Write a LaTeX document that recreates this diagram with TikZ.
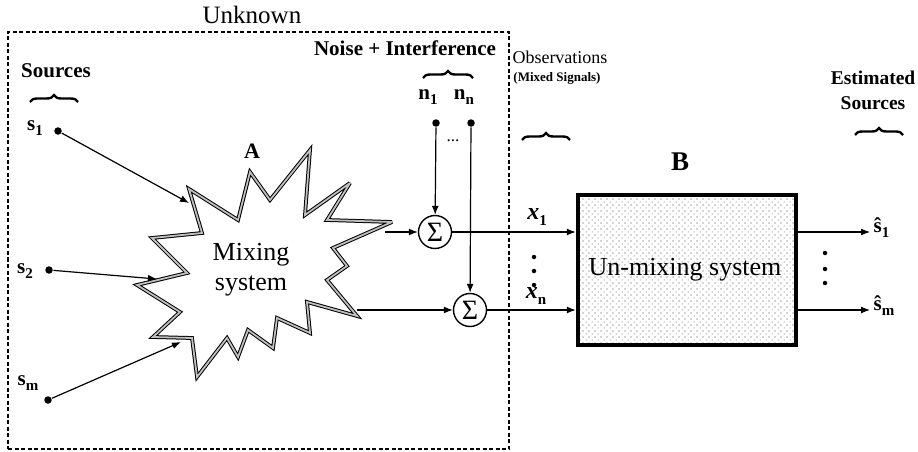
\documentclass[tikz,border=0pt]{standalone}
\usepackage{fontspec}
\setmainfont{Liberation Serif}
\usetikzlibrary{arrows.meta,decorations.pathreplacing,patterns.meta}
\tikzdeclarepattern{
  name=sparsedots,
  type=uncolored,
  bottom left={(-1pt,-1pt)},
  top right={(7pt,7pt)},
  tile size={(6pt,6pt)},
  code={\pgfpathcircle{\pgfpoint{1pt}{1pt}}{0.55pt}\pgfpathcircle{\pgfpoint{4pt}{4pt}}{0.5pt}\pgfusepath{fill}}
}
\begin{document}
\begin{tikzpicture}[x=1pt,y=-1pt,line width=1.2pt,
  lbl/.style={font=\fontsize{21}{22}\selectfont\bfseries,inner sep=0pt},
  reg/.style={font=\fontsize{26}{30}\selectfont,inner sep=0pt,align=center},
  dotn/.style={circle,fill,inner sep=0pt,minimum size=7.5pt},
  arr/.style={-{Latex[length=9pt,width=7pt]}},
  brc/.style={decorate,decoration={brace,amplitude=7pt},line width=2.4pt},
  sumn/.style={circle,draw,line width=1.4pt,minimum size=33pt,inner sep=0pt,font=\fontsize{28}{28}\selectfont},
  vdot/.style={circle,fill,inner sep=0pt,minimum size=4.5pt}]
\useasboundingbox (0,0) rectangle (918,452);
\fill[white] (0,0) rectangle (918,452);

% unknown box
\node (unk) [draw,line width=1.3pt,dash pattern=on 4pt off 2.5pt,minimum width=501pt,minimum height=417pt,inner sep=0pt] at (258.5,240.5) {};
\node[reg,font=\fontsize{25}{26}\selectfont] (unkl) at (252,15) {Unknown};

% starburst
\draw[line width=1pt,double=gray!50,double distance=1.8pt,fill=white,line join=miter,miter limit=4]
 (189,189) -- (238,220) -- (250,172) -- (270,200) -- (310,150) -- (305,215) -- (350,183) -- (327,220)
 -- (392,222) -- (333,248) -- (347,266) -- (327,280) -- (357,316) -- (307,302) -- (310,333) -- (277,318)
 -- (273,348) -- (248,330) -- (238,357) -- (227,338) -- (197,377) -- (192,338) -- (153,337) -- (180,312)
 -- (137,285) -- (187,273) -- (152,238) -- (202,233) -- cycle;
\node[reg] (mix) at (251,270) {Mixing\\system};
\node[lbl,font=\fontsize{22}{22}\selectfont\bfseries] (A) at (252,151) {A};
\coordinate (a1) at (189,203);
\coordinate (a2) at (157,279);
\coordinate (am) at (181,342);
\coordinate (o1) at (385,232);
\coordinate (o2) at (357,310);

% sources
\node[lbl] (srcl) at (56,71) {Sources};
\draw[brc] (30,102) -- (78,102);
\node[lbl] (s1l) at (35,128) {s\raisebox{-0.5ex}{\fontsize{15}{15}\selectfont 1}};
\node[lbl] (s2l) at (25,271) {s\raisebox{-0.5ex}{\fontsize{15}{15}\selectfont 2}};
\node[lbl] (sml) at (28,383) {s\raisebox{-0.5ex}{\fontsize{15}{15}\selectfont m}};
\node[dotn] (s1) at (58,131) {};
\node[dotn] (s2) at (49,270) {};
\node[dotn] (sm) at (48,400) {};
\draw[arr] (s1) -- (a1);
\draw[arr] (s2) -- (a2);
\draw[arr] (sm) -- (am);

% noise
\node[lbl] (noisel) at (405,48) {Noise + Interference};
\draw[brc] (423,78) -- (473,78);
\node[lbl] (n1l) at (428,97) {n\raisebox{-0.5ex}{\fontsize{15}{15}\selectfont 1}};
\node[lbl] (nnl) at (464,97) {n\raisebox{-0.5ex}{\fontsize{15}{15}\selectfont n}};
\node[dotn] (n1) at (436,123) {};
\node[dotn] (nn) at (471,123) {};
\node[lbl,font=\fontsize{17}{17}\selectfont] (ndots) at (453,141) {...};

% sums
\node[sumn] (sum1) at (435,232) {Σ};
\node[sumn] (sum2) at (470,310) {Σ};
\draw[arr] (n1) -- (sum1);
\draw[arr] (nn) -- (sum2);
\draw[arr] (o1) -- (sum1);
\draw[arr] (o2) -- (sum2);

% observations
\node[inner sep=0pt,font=\fontsize{18}{18}\selectfont] (obsl) at (560,57) {Observations};
\node[inner sep=0pt,font=\fontsize{13}{13}\selectfont\bfseries] (mixl) at (557,78) {(Mixed Signals)};
\draw[brc] (522,140) -- (570,140);

% unmixing box
\node (B) [draw,line width=4.5pt,pattern=sparsedots,pattern color=black!70,minimum width=218pt,minimum height=150pt,inner sep=0pt] at (687,270) {};
\node[reg,font=\fontsize{26}{28}\selectfont] (unmix) at (685,270) {Un-mixing system};
\node[lbl,font=\fontsize{27}{28}\selectfont\bfseries] (Bl) at (680,162) {B};
\draw[arr] (sum1) -- (sum1 -| B.west);
\draw[arr] (sum2) -- (sum2 -| B.west);
\node[lbl,font=\fontsize{24}{24}\selectfont\bfseries] (x1l) at (537,217) {\textit{x}\raisebox{-0.5ex}{\fontsize{15}{15}\selectfont 1}};
\node[lbl,font=\fontsize{24}{24}\selectfont\bfseries] (xnl) at (536,296) {\textit{x}\raisebox{-0.5ex}{\fontsize{15}{15}\selectfont n}};
\node[vdot] (xd1) at (534,257) {};
\node[vdot] (xd2) at (534,271) {};
\node[vdot] (xd3) at (534,285) {};

% outputs
\coordinate (y1) at (870,232);
\coordinate (ym) at (870,310);
\draw[arr] (B.east |- y1) -- (y1);
\draw[arr] (B.east |- ym) -- (ym);
\node[lbl,anchor=west] (y1l) at (873,228) {ŝ\raisebox{-0.5ex}{\fontsize{15}{15}\selectfont 1}};
\node[lbl,anchor=west] (yml) at (873,306) {ŝ\raisebox{-0.5ex}{\fontsize{15}{15}\selectfont m}};
\node[vdot] (yd1) at (825,253) {};
\node[vdot] (yd2) at (825,269) {};
\node[vdot] (yd3) at (825,283) {};
\node[lbl,align=center,font=\fontsize{19.5}{25}\selectfont\bfseries] (estl) at (873,90) {Estimated\\Sources};
\draw[brc] (855,135) -- (903,135);
\end{tikzpicture}
\end{document}
